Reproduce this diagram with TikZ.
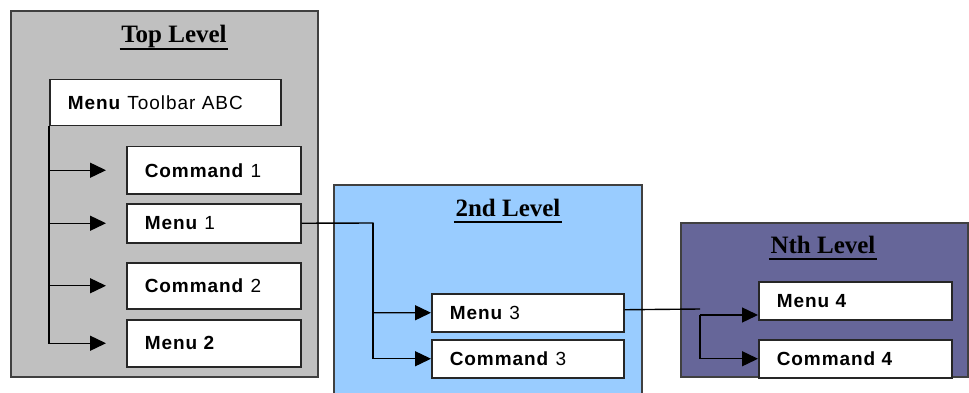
\documentclass[tikz,border=0pt]{standalone}
\usepackage{fontspec}
\setmainfont{Liberation Serif}
\newfontfamily\boxfont{Liberation Sans}[LetterSpace=5]
\definecolor{colorTop}{HTML}{C0C0C0}
\definecolor{colorSecond}{HTML}{99CCFF}
\definecolor{colorNth}{HTML}{666699}
\usetikzlibrary{arrows.meta}
\tikzset{
  panel/.style={draw=black!75, line width=1.3pt},
  levelTitle/.style={font=\fontsize{25}{28}\selectfont\bfseries, inner sep=0pt, anchor=base},
  titleRule/.style={line width=2.5pt, shorten <=-1pt, shorten >=-1pt},
  box/.style={draw=black!85, fill=white, line width=1.5pt, inner xsep=18pt, inner ysep=0pt, align=left, anchor=north west, font=\boxfont\fontsize{19}{21}\selectfont}
}

\begin{document}
\begin{tikzpicture}[x=1pt, y=-1pt, >={Triangle[length=16pt,width=15pt]}, line width=1.4pt]
\useasboundingbox (0,0) rectangle (969,393);
\draw[panel, fill=colorTop] (11,11) rectangle (318,377);
\draw[panel, fill=colorSecond] (334,185) rectangle (642,398);
\draw[panel, fill=colorNth] (681,223) rectangle (968,377);
\node[levelTitle] (topTitle) at (174,43) {Top Level};
\node[levelTitle] (secondTitle) at (508,216) {2nd Level};
\node[levelTitle] (nthTitle) at (823,253) {Nth Level};
\draw[titleRule] ([yshift=-6pt]topTitle.base west) -- ([yshift=-6pt]topTitle.base east);
\draw[titleRule] ([yshift=-6pt]secondTitle.base west) -- ([yshift=-6pt]secondTitle.base east);
\draw[titleRule] ([yshift=-6pt]nthTitle.base west) -- ([yshift=-6pt]nthTitle.base east);
\node[box, text width=195pt, minimum height=46pt] (toolbar) at (49,79) {\textbf{Menu} Toolbar ABC};
\node[box, text width=138pt, minimum height=47pt] (cmd1) at (126,146) {\textbf{Command} 1};
\node[box, text width=138pt, minimum height=39pt] (menu1) at (126,203) {\textbf{Menu} 1};
\node[box, text width=138pt, minimum height=46pt] (cmd2) at (126,262) {\textbf{Command} 2};
\node[box, text width=138pt, minimum height=47pt] (menu2) at (126,319) {\textbf{Menu 2}};
\node[box, text width=156pt, minimum height=38pt] (menu3) at (431,293) {\textbf{Menu} 3};
\node[box, text width=156pt, minimum height=38pt] (cmd3) at (431,339) {\textbf{Command} 3};
\node[box, text width=157pt, minimum height=38pt] (menu4) at (758,281) {\textbf{Menu 4}};
\node[box, text width=157pt, minimum height=38pt] (cmd4) at (758,339) {\textbf{Command 4}};
\draw[->, shorten >=20pt] (toolbar.south west) |- (cmd1.west);
\draw[->, shorten >=20pt] (toolbar.south west) |- (menu1.west);
\draw[->, shorten >=20pt] (toolbar.south west) |- (cmd2.west);
\draw[->, shorten >=20pt] (toolbar.south west) |- (menu2.west);
\coordinate (fork2) at (373,223);
\draw[->] (menu1.east) -- (fork2) |- (menu3.west);
\draw[->] (fork2) |- (cmd3.west);
\coordinate (joinN) at (700,309);
\coordinate (forkN) at (700,315);
\draw ([yshift=3pt]menu3.east) -- (joinN);
\draw[->] (forkN) -- (forkN -| menu4.west);
\draw[->] (forkN) |- (cmd4.west);
\end{tikzpicture}
\end{document}
